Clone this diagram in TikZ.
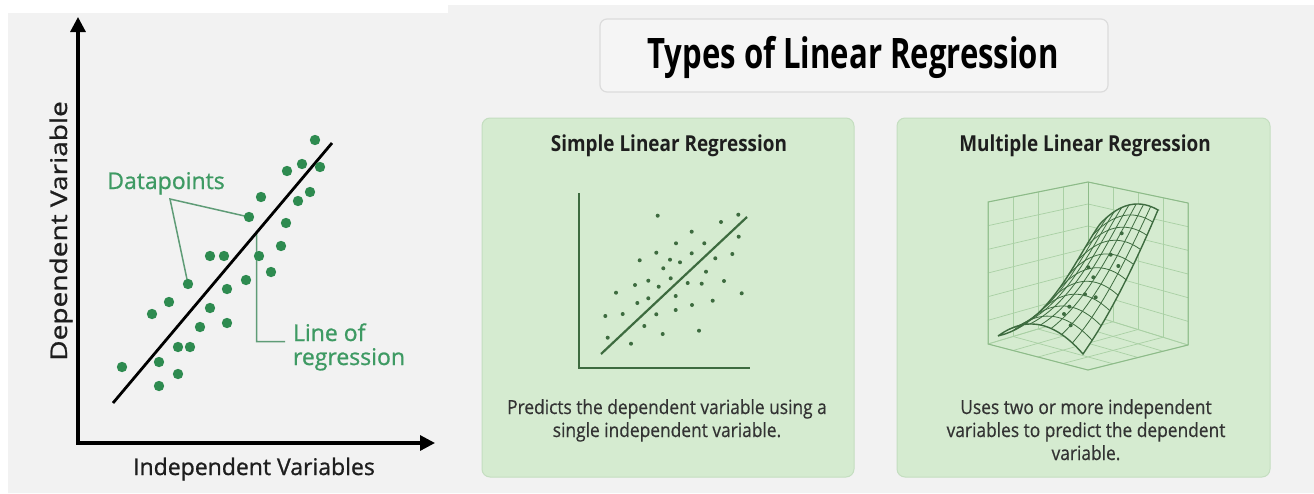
\documentclass[tikz,border=0pt]{standalone}
\usepackage{fontspec}
\setmainfont{Open Sans}
\newfontfamily\titlefont{Open Sans}[FakeStretch=0.74]
\newfontfamily\headfont{Open Sans}[FakeStretch=0.86]
\newfontfamily\descfont{Open Sans}[FakeStretch=0.89,FakeBold=0.5]
\newfontfamily\labfont{Open Sans}[FakeBold=0.9]
\newfontfamily\ylabfont{Open Sans}[FakeStretch=1.22,FakeBold=0.9]
\usetikzlibrary{arrows.meta,calc}
\definecolor{bggray}{HTML}{F2F2F2}
\definecolor{dotgreen}{HTML}{2E8B50}
\definecolor{labgreen}{HTML}{3E9A63}
\definecolor{leadgreen}{HTML}{5F9C77}
\definecolor{panelfill}{HTML}{D5EBD0}
\definecolor{paneldraw}{HTML}{C4DEC0}
\definecolor{darkgreen}{HTML}{3D6B3F}
\definecolor{gridgreen}{HTML}{A9D0A4}
\definecolor{gridedge}{HTML}{8DBB89}
\definecolor{titlefill}{HTML}{F5F5F5}
\definecolor{titledraw}{HTML}{DCDCDC}
\definecolor{textdark}{HTML}{1E1E1E}
\definecolor{descdark}{HTML}{333333}
\tikzset{
  axisline/.style={line width=3.2pt, black, -{Triangle[length=15pt,width=15pt]}},
  regline/.style={line width=2.8pt, black},
  dotL/.style={fill=dotgreen},
  leader/.style={leadgreen, line width=1.5pt},
  panelbox/.style={draw=paneldraw, fill=panelfill, rounded corners=8pt, line width=1pt, inner sep=0pt},
  titlebox/.style={draw=titledraw, fill=titlefill, rounded corners=7pt, line width=1.2pt, inner sep=0pt},
  txt/.style={inner sep=0pt, outer sep=0pt},
  paneltitle/.style={txt, anchor=base, text=textdark, font=\headfont\bfseries\fontsize{22}{26}\selectfont},
  desc/.style={txt, anchor=base, text=descdark, font=\descfont\fontsize{19.5}{23}\selectfont},
  leftlab/.style={txt, text=textdark, font=\labfont\fontsize{23}{27}\selectfont},
  greenlab/.style={txt, text=labgreen, font=\labfont\fontsize{23}{27}\selectfont},
  wallgrid/.style={gridgreen, line width=0.7pt},
  walledge/.style={gridedge, line width=1pt},
  meshline/.style={darkgreen, line width=0.8pt},
  meshedge/.style={darkgreen, line width=1.4pt},
}
\begin{document}
\begin{tikzpicture}[x=1pt,y=-1pt,
  declare function={
    bez(\qa,\qb,\qc,\qd,\qt)=(1-\qt)*(1-\qt)*(1-\qt)*\qa+3*(1-\qt)*(1-\qt)*\qt*\qb+3*(1-\qt)*\qt*\qt*\qc+\qt*\qt*\qt*\qd;
    sx(\su,\sv)=(1-\su)*bez(998,1050,1076,1100,\sv)+\su*bez(1083,1114,1142,1158,\sv);
    sy(\su,\sv)=(1-\su)*bez(336,324,258,224,\sv)+\su*bez(354,310,248,210,\sv)-4*\su*(1-\su)*(20-8*\sv);
  }]
\useasboundingbox (0,0) rectangle (1314,493);
\fill[white] (0,0) rectangle (1314,493);
\fill[bggray] (8,13) -- (448,13) -- (448,5) -- (1314,5) -- (1314,493) -- (8,493) -- cycle;

% ---------------- left plot ----------------
\coordinate (O) at (78,443);
\coordinate (Ytip) at (78,17);
\coordinate (Xstart) at (76.4,443);
\coordinate (Xtip) at (435,443);
\draw[axisline] (O) -- (Ytip);
\draw[axisline] (Xstart) -- (Xtip);
\node[leftlab, rotate=90, anchor=base, font=\ylabfont\fontsize{23}{27}\selectfont] (ylab) at (67,231) {Dependent Variable};
\node[leftlab, anchor=base] (xlab) at (254,475) {Independent Variables};

\coordinate (rs) at (113,403);
\coordinate (re) at (332,143);

% leaders
\coordinate (dv) at (170,199);
\coordinate (dpA) at (249,217);
\coordinate (dpB) at (188,284);
\draw[leader] (dpA) -- (dv) -- (dpB);
\coordinate (lrTop) at ($(rs)!0.656!(re)$);
\coordinate (lrCorner) at (256.7,341.7);
\coordinate (lrEnd) at (285,341.7);
\draw[leader] (lrTop) -- (lrCorner) -- (lrEnd);

\draw[regline] (rs) -- (re);

\foreach \px/\py in {122/367,159/362,159/386,178/347,178/374,190/347,152/314,169/302,188/284,200/327,
  210/308,227/323,227/289,210/256,224/256,246/280,249/217,261/197,259/256,271/272,281/246,286/223,
  298/201,310/192,287/171,302/164,320/167,315/140}
  \fill[dotL] (\px,\py) circle (5.2pt);

\node[greenlab, anchor=base] (dplab) at (166,189) {Datapoints};
\node[greenlab, anchor=base west] (lrlab1) at (293,341) {Line of};
\node[greenlab, anchor=base west] (lrlab2) at (293,365) {regression};

% ---------------- title ----------------
\node[titlebox, minimum width=508pt, minimum height=73pt] (tbox) at (854,55.5) {};
\node[txt, anchor=base, text=black, font=\titlefont\bfseries\fontsize{42}{48}\selectfont] (title) at (853,68) {Types of Linear Regression};

% ---------------- panels ----------------
\node[panelbox, minimum width=372pt, minimum height=359pt] (p1) at (668,297.5) {};
\node[panelbox, minimum width=373pt, minimum height=359pt] (p2) at (1083.5,297.5) {};

\node[paneltitle] (p1t) at (669,151) {Simple Linear Regression};
\node[paneltitle] (p2t) at (1085,151) {Multiple Linear Regression};

\node[desc] (p1d1) at (667,414) {Predicts the dependent variable using a};
\node[desc] (p1d2) at (667,437) {single independent variable.};
\node[desc] (p2d1) at (1086,414) {Uses two or more independent};
\node[desc] (p2d2) at (1086,437) {variables to predict the dependent};
\node[desc] (p2d3) at (1086,460) {variable.};

% simple scatter
\coordinate (sO) at (579,368);
\coordinate (sY) at (579,193);
\coordinate (sX) at (750,368);
\draw[darkgreen, line width=2.6pt] (sY) -- (sO) -- (sX);
\coordinate (srs) at (601,354);
\coordinate (sre) at (747,217);
\draw[darkgreen, line width=2.2pt] (srs) -- (sre);
\foreach \px/\py in {657.7/215.7,738.3/214.7,721/222,691.7/231.7,738.7/236.7,676/243.3,704.3/243.3,
  656.3/252.7,691.7/253.3,732.3/254,639.7/260.3,670/259.7,680/262.3,715.3/258.3,663.3/268.3,706/271.7,
  670.7/278.3,648.3/280.7,635/285,658.7/286.7,687.7/283,701.7/283.7,724/281,616/292.7,741.7/293.3,
  675.7/296,648.3/298.3,637.3/303,712.7/300.7,692/305,675.7/310,605.3/316,622.7/314,656.3/314.3,
  644.3/326,699/330.7,662.7/334,607.7/337.7,631/343.7}
  \fill[darkgreen] (\px,\py) circle (2pt);

% multiple: 3D box
\foreach \k in {0,...,4} {
  \draw[wallgrid] (988+25*\k, 202-5*\k) -- (988+25*\k, 344-7.5*\k);
  \draw[wallgrid] (1088+25*\k, 182+5.25*\k) -- (1088+25*\k, 314+7.75*\k);
}
\foreach \j in {0,...,6} {
  \draw[wallgrid] (988, 202+142/6*\j) -- (1088, 182+132/6*\j);
  \draw[wallgrid] (1088, 182+132/6*\j) -- (1188, 203+142/6*\j);
}
\coordinate (FL) at (988,344);
\coordinate (FB) at (1088,314);
\coordinate (FR) at (1188,345);
\coordinate (FF) at (1088,370);
\coordinate (WTL) at (988,202);
\coordinate (WTB) at (1088,182);
\coordinate (WTR) at (1188,203);
\foreach \k in {0,...,4} {
  \draw[wallgrid] ($(FL)!\k/4!(FF)$) -- ($(FB)!\k/4!(FR)$);
  \draw[wallgrid] ($(FL)!\k/4!(FB)$) -- ($(FF)!\k/4!(FR)$);
}
\draw[walledge] (FL) -- (WTL) -- (WTB) -- (WTR) -- (FR) -- (FF) -- cycle;
\draw[walledge] (WTB) -- (FB);

% surface
\fill[panelfill] plot[variable=\su,domain=0:1,samples=25] ({sx(\su,0)},{sy(\su,0)})
  -- plot[variable=\sv,domain=0:1,samples=25] ({sx(1,\sv)},{sy(1,\sv)})
  -- plot[variable=\su,domain=1:0,samples=25] ({sx(\su,1)},{sy(\su,1)})
  -- plot[variable=\sv,domain=1:0,samples=25] ({sx(0,\sv)},{sy(0,\sv)}) -- cycle;
\foreach \i in {1,...,7}
  \draw[meshline] plot[variable=\sv,domain=0:1,samples=25] ({sx(\i/8,\sv)},{sy(\i/8,\sv)});
\foreach \i in {1,...,9}
  \draw[meshline] plot[variable=\su,domain=0:1,samples=20] ({sx(\su,\i/10)},{sy(\su,\i/10)});
\draw[meshedge] plot[variable=\su,domain=0:1,samples=25] ({sx(\su,0)},{sy(\su,0)})
  -- plot[variable=\sv,domain=0:1,samples=25] ({sx(1,\sv)},{sy(1,\sv)})
  -- plot[variable=\su,domain=1:0,samples=25] ({sx(\su,1)},{sy(\su,1)})
  -- plot[variable=\sv,domain=1:0,samples=25] ({sx(0,\sv)},{sy(0,\sv)}) -- cycle;
\foreach \px/\py in {1121.7/233.3,1110.7/254.7,1118.3/266,1088.3/267.3,1093.3/277.3,1085/294.3,
  1095.7/297.3,1069.3/306.7,1064/314,1070.7/325.3}
  \fill[darkgreen] (\px,\py) circle (2pt);
\end{tikzpicture}
\end{document}
